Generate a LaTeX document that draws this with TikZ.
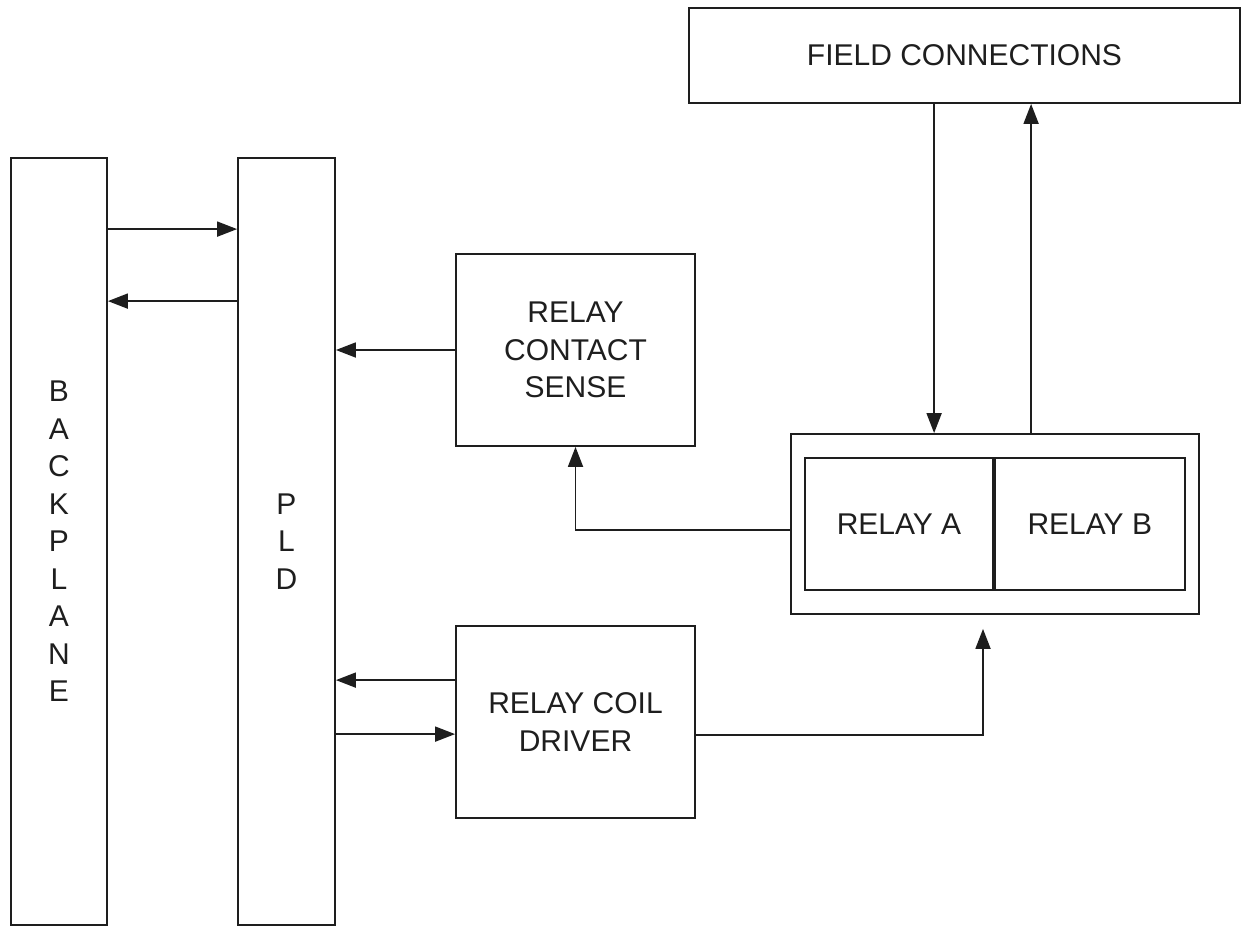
\documentclass[tikz,border=0pt]{standalone}
\usepackage{fontspec}
\setmainfont{Liberation Sans}
\usetikzlibrary{positioning, arrows.meta, calc}
\definecolor{lineclr}{HTML}{1E1E1E}

\begin{document}
\begin{tikzpicture}[x=1pt, y=-1pt,
    blk/.style={draw=lineclr, line width=1.8pt, inner sep=0pt, align=center, text=lineclr, font=\fontsize{30}{37.5}\selectfont},
    arr/.style={-{Triangle[length=20pt,width=15pt]}, draw=lineclr, line width=1.8pt}]
  \useasboundingbox (0,0) rectangle (1241,926);
  % buses
  \node[blk, minimum width=96pt, minimum height=767pt] (bp) at (59,541.5) {B\\A\\C\\K\\P\\L\\A\\N\\E};
  \node[blk, minimum width=97pt, minimum height=767pt] (pld) at (286.5,541.5) {P\\L\\D};
  % relay blocks
  \node[blk, minimum width=239pt, minimum height=192pt] (rcs) at (575.5,350) {RELAY\\CONTACT\\SENSE};
  \node[blk, minimum width=239pt, minimum height=192pt] (rcd) at (575.5,722) {RELAY COIL\\DRIVER};
  \node[blk, minimum width=551pt, minimum height=95pt] (fc) at (964.5,55.5) {FIELD CONNECTIONS};
  \node[blk, minimum width=408pt, minimum height=180pt] (relay) at (995,524) {};
  \node[blk, minimum width=188pt, minimum height=132pt] (ra) at (899,524) {RELAY A};
  \node[blk, minimum width=190pt, minimum height=132pt, right=0pt of ra] (rb) {RELAY B};
  % connectors
  \draw[arr] ($(bp.north east)+(0,72)$) -- ($(pld.north west)+(0,72)$);
  \draw[arr] ($(pld.north west)+(0,144)$) -- ($(bp.north east)+(0,144)$);
  \draw[arr] (rcs.west) -- (rcs.west -| pld.east);
  \draw[arr] ($(rcd.north west)+(0,55)$) -- ($(rcd.north west -| pld.east)+(0,55)$);
  \draw[arr] ($(rcd.north west -| pld.east)+(0,109)$) -- ($(rcd.north west)+(0,109)$);
  \draw[arr] ($(fc.south west)+(246,0)$) -- ($(relay.north west)+(144,0)$);
  \draw[arr] ($(relay.north west)+(241,0)$) -- ($(fc.south west)+(343,0)$);
  \draw[arr] ([yshift=-6pt]relay.west) -| (rcs.south);
  \draw[arr] ([yshift=-13pt]rcd.east) -| ([xshift=-12pt,yshift=-14pt]relay.south);
\end{tikzpicture}
\end{document}
